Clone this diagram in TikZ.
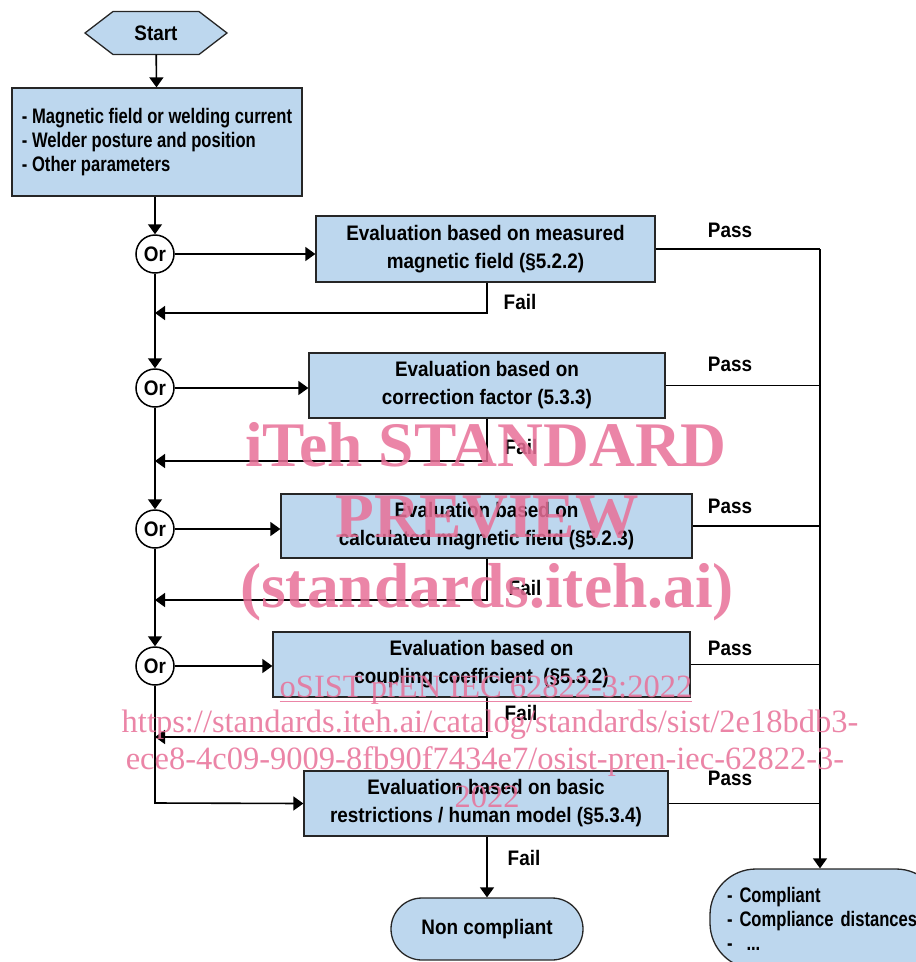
\documentclass[tikz,border=0pt]{standalone}
\usepackage{fontspec}
\setmainfont{Liberation Sans}
\newfontfamily\fA{Liberation Sans}[FakeStretch=0.9]
\newfontfamily\fN{Liberation Sans}[FakeStretch=0.79]
\newfontfamily\wmfont{Liberation Serif}
\usetikzlibrary{arrows.meta,calc}
\definecolor{boxblue}{RGB}{189,215,238}
\definecolor{wmpink}{RGB}{232,112,152}
\tikzset{
  txt/.style={font=\fA\fontsize{21}{28}\selectfont\bfseries},
  ntxt/.style={font=\fN\fontsize{21}{24}\selectfont\bfseries},
  lbl/.style={font=\fA\fontsize{21}{24}\selectfont\bfseries, inner sep=0},
  box/.style={draw=black!85, line width=1.3pt, fill=boxblue, txt, align=center, inner sep=0},
  orc/.style={circle, draw=black, line width=1.5pt, fill=white, minimum size=38pt, inner sep=0,
              font=\fA\fontsize{21}{24}\selectfont\bfseries},
  conn/.style={line width=1.6pt},
  arr/.style={conn, -{Triangle[width=14pt,length=10pt]}},
  wmbig/.style={text=wmpink, opacity=0.85, font=\wmfont\fontsize{63.5}{64}\selectfont\bfseries, inner sep=0},
  wmsmall/.style={text=wmpink, opacity=0.85, font=\wmfont\fontsize{32.5}{33}\selectfont, inner sep=0},
}
\begin{document}
\begin{tikzpicture}[x=1pt,y=-1pt]
\useasboundingbox (0,0) rectangle (916,962);
% start hexagon
\filldraw[fill=boxblue, draw=black!85, line width=1.3pt]
  (85,33) -- (113,11.5) -- (199,11.5) -- (227,33) -- (199,54.5) -- (113,54.5) -- cycle;
\node[txt, inner sep=0, minimum width=142pt, minimum height=43pt] (start) at (156,33) {Start};
% parameters box
\node[box, ntxt, align=left, minimum width=290pt, minimum height=108pt] (par) at (157,142)
  {- Magnetic field or welding current\\- Welder posture and position\\- Other parameters};
% Or nodes
\node[orc] (or1) at (155,254) {Or};
\node[orc] (or2) at (155,388) {Or};
\node[orc] (or3) at (155,529) {Or};
\node[orc] (or4) at (155,666) {Or};
% evaluation boxes
\node[box, minimum width=339pt, minimum height=66pt] (b1) at (485.5,249)
  {Evaluation based on measured\\magnetic field (\S5.2.2)};
\node[box, minimum width=356pt, minimum height=65pt] (b2) at (487,385.5)
  {Evaluation based on\\correction factor (5.3.3)};
\node[box, minimum width=411pt, minimum height=64pt] (b3) at (486.5,526)
  {Evaluation based on\\calculated magnetic field (\S5.2.3)};
\node[box, minimum width=417pt, minimum height=65pt] (b4) at (481.5,664.5)
  {Evaluation based on\\coupling coefficient\ \ (\S5.3.2)};
\node[box, minimum width=364pt, minimum height=65pt] (b5) at (486,803.5)
  {Evaluation based on basic\\restrictions / human model (\S5.3.4)};
% end nodes
\node[box, rounded corners=31pt, minimum width=192pt, minimum height=62pt] (nc) at (487,929) {Non compliant};
\node[box, ntxt, rounded corners=46pt, align=left, minimum width=232pt, minimum height=100pt, text width=198pt] (comp) at (826,919)
  {- Compliant\\- Compliance distances\\-\ \ ...};
% connectors
\draw[arr] (start) -- (par);
\draw[arr] (par.south -| or1) -- (or1);
\foreach \o/\b in {or1/b1,or2/b2,or3/b3,or4/b4} {
  \draw[arr] (\o.east) -- (\o.east -| \b.west);
}
\draw[arr] (or1) -- (or2);
\draw[arr] (or2) -- (or3);
\draw[arr] (or3) -- (or4);
\coordinate (j5) at (155,803);
\draw[arr] (or4.south) -- (j5) -- (b5.west);
% fail branches
\coordinate (f1) at (487,313);
\coordinate (f2) at (487,461);
\coordinate (f3) at (487,600);
\coordinate (f4) at (487,737);
\draw[arr] (b1.south -| f1) -- (f1) -- (f1 -| or1);
\draw[arr] (b2.south -| f2) -- (f2) -- (f2 -| or2);
\draw[arr] (b3.south -| f3) -- (f3) -- (f3 -| or3);
\draw[arr] (b4.south -| f4) -- (f4) -- (f4 -| or4);
\draw[arr] (b5.south -| nc) -- (nc.north);
\node[lbl] at (520,302) {Fail};
\node[lbl] at (521,447) {Fail};
\node[lbl] at (525,588) {Fail};
\node[lbl] at (521,713) {Fail};
\node[lbl] at (524,858) {Fail};
% pass branches
\coordinate (pt) at (820,249);
\draw[conn] (b1.east) -- (pt);
\draw[conn] (b2.east) -- (b2.east -| pt);
\draw[conn] (b3.east) -- (b3.east -| pt);
\draw[conn] (b4.east) -- (b4.east -| pt);
\draw[conn] (b5.east) -- (b5.east -| pt);
\draw[arr] (pt) -- (pt |- comp.north);
\node[lbl] at (730,230) {Pass};
\node[lbl] at (730,364) {Pass};
\node[lbl] at (730,506) {Pass};
\node[lbl] at (730,648) {Pass};
\node[lbl] at (730,778) {Pass};
% watermark
\node[wmbig] (w1) at (486,445) {iTeh STANDARD};
\node[wmbig] (w2) at (487,517) {PREVIEW};
\node[wmbig] (w3) at (487,592) {(standards.iteh.ai)};
\node[wmsmall] (w4) at (486,690) {oSIST prEN IEC 62822-3:2022};
\draw[wmpink, opacity=0.85, line width=1.2pt] ($(w4.base west)+(0,4)$) -- ($(w4.base east)+(0,4)$);
\node[wmsmall] (w5) at (490,725) {https://standards.iteh.ai/catalog/standards/sist/2e18bdb3-};
\node[wmsmall] (w6) at (485,762) {ece8-4c09-9009-8fb90f7434e7/osist-pren-iec-62822-3-};
\node[wmsmall] (w7) at (487,797) {2022};
\end{tikzpicture}
\end{document}
